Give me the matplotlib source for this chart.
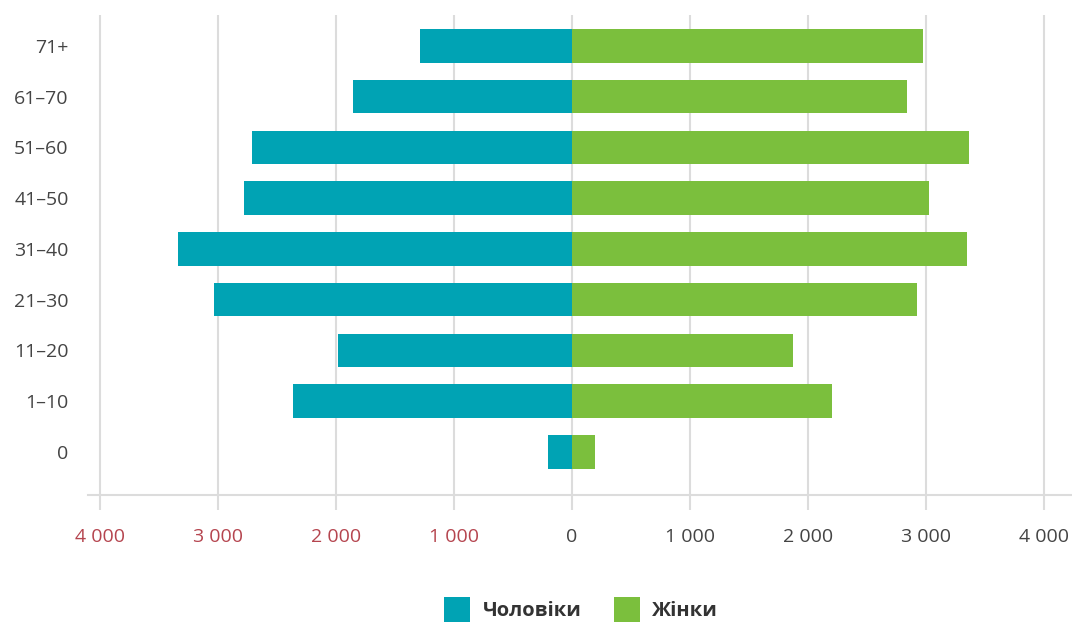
import matplotlib.pyplot as plt
from matplotlib.patches import Patch
import numpy as np

plt.rcParams['font.family'] = ['Open Sans', 'DejaVu Sans']

# вікові групи (знизу вгору)
groups = ['0', '1–10', '11–20', '21–30', '31–40', '41–50', '51–60', '61–70', '71+']
men = [206, 2361, 1983, 3034, 3336, 2782, 2714, 1856, 1288]
women = [195, 2203, 1873, 2924, 3345, 3028, 3364, 2842, 2972]

xticks = [-4000, -3000, -2000, -1000, 0, 1000, 2000, 3000, 4000]
xticklabels = ['4 000', '3 000', '2 000', '1 000', '0', '1 000', '2 000', '3 000', '4 000']

teal = '#00a3b4'
green = '#7bbf3d'
grid_c = '#dcdcdc'

fig = plt.figure(figsize=(10.72, 6.22), dpi=100)
ax = fig.add_axes([88 / 1072, 127 / 622, 984 / 1072, 480 / 622])

y = np.arange(len(groups))
ax.barh(y, -np.array(men), height=0.66, color=teal, zorder=3)
ax.barh(y, women, height=0.66, color=green, zorder=3)

ax.set_xlim(-4102, 4237)
ax.set_ylim(-0.85, 8.61)

ax.set_xticks(xticks)
ax.set_xticklabels(xticklabels)
for lbl, v in zip(ax.get_xticklabels(), xticks):
    lbl.set_color('#b5454f' if v < 0 else '#444444')

ax.set_yticks(y)
ax.set_yticklabels(groups)

ax.grid(axis='x', color=grid_c, linewidth=1.5, zorder=0)
ax.grid(axis='y', visible=False)
for s in ['top', 'right', 'left']:
    ax.spines[s].set_visible(False)
ax.spines['bottom'].set_color(grid_c)
ax.spines['bottom'].set_linewidth(1.5)

ax.tick_params(axis='x', length=11, width=1.5, color=grid_c, pad=13, labelsize=14)
ax.tick_params(axis='y', length=0, pad=14, labelsize=14, labelcolor='#444444')

handles = [Patch(facecolor=teal, label='Чоловіки'), Patch(facecolor=green, label='Жінки')]
leg = fig.legend(handles=handles, loc='lower center', bbox_to_anchor=(581 / 1072, -0.03),
                 ncol=2, frameon=False, handlelength=1.3, handleheight=1.6,
                 columnspacing=1.6, handletextpad=0.6,
                 prop={'size': 14.5, 'weight': 'bold'})
for t in leg.get_texts():
    t.set_color('#333333')

fig.savefig('out.png', dpi=100)
